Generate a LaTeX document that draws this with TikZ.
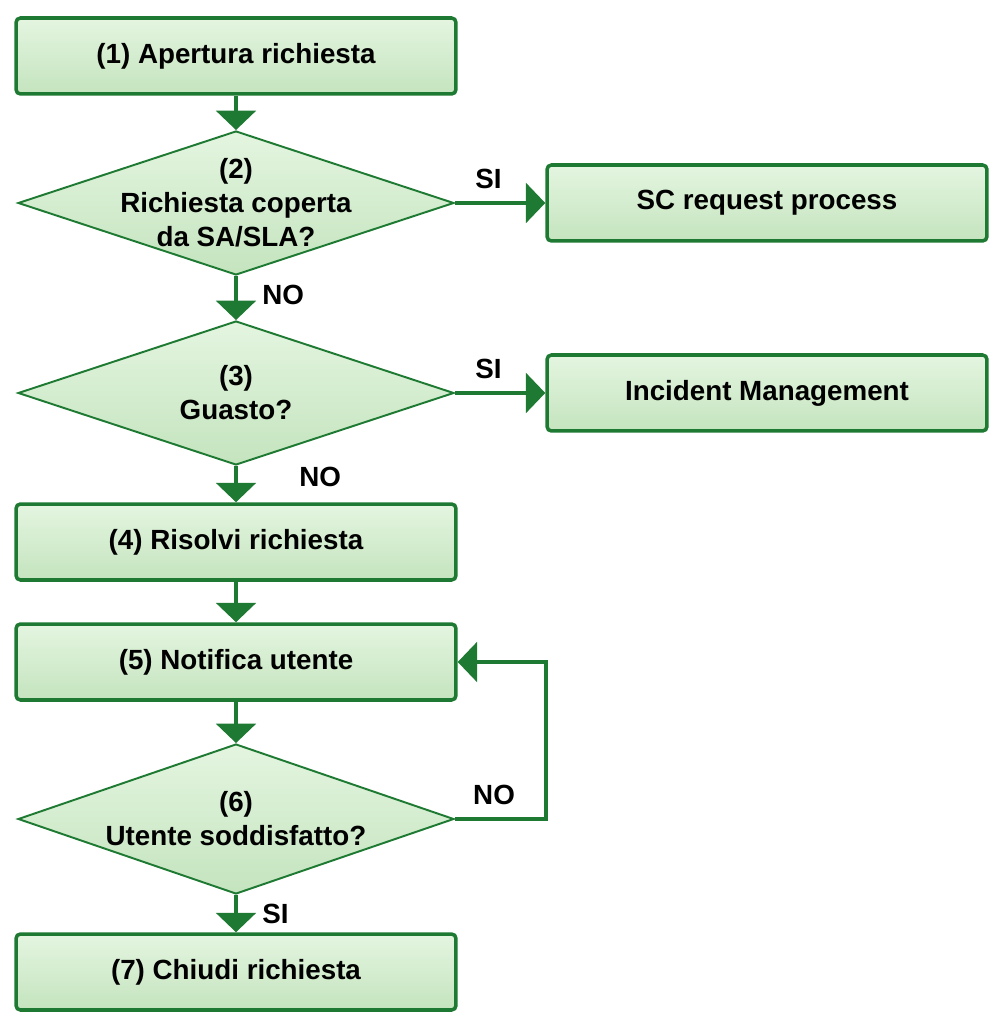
\documentclass[tikz,border=0pt]{standalone}
\usepackage{fontspec}
\setmainfont{Liberation Sans}
\usetikzlibrary{arrows.meta, positioning, shapes.geometric}
\definecolor{flowgreen}{RGB}{30,122,50}
\definecolor{boxtop}{RGB}{228,245,224}
\definecolor{boxbot}{RGB}{196,228,190}

\begin{document}
\begin{tikzpicture}[
    x=0.02cm, y=-0.02cm,
    font=\fontsize{15.8}{19.3}\selectfont\bfseries,
    procbox/.style  = {rectangle, draw=flowgreen, line width=2pt, rounded corners=2.5pt,
                       top color=boxtop, bottom color=boxbot,
                       minimum width=8.8cm, minimum height=1.52cm, align=center},
    decision/.style = {diamond, draw=flowgreen, line width=1.1pt,
                       top color=boxtop, bottom color=boxbot,
                       minimum width=8.72cm, minimum height=2.88cm, inner sep=0pt},
    dtext/.style    = {align=center, inner sep=0pt},
    arr/.style      = {-{Triangle[length=11pt, width=22.5pt]}, flowgreen, line width=2pt},
    lbl/.style      = {inner sep=2pt, text=black},
]
\useasboundingbox (0,0) rectangle (1000,1026);

% ---------------- main column ----------------
\node[procbox] (apertura) at (236,56) {(1) Apertura richiesta};
\node[decision] (coperta) at (236,203) {};
\node[dtext] at (coperta) {(2)\\Richiesta coperta\\da SA/SLA?};
\node[decision] (guasto) at (236,393) {};
\node[dtext] at (guasto) {(3)\\Guasto?};
\node[procbox] (risolvi) at (236,542) {(4) Risolvi richiesta};
\node[procbox] (notifica) at (236,662) {(5) Notifica utente};
\node[decision, minimum height=3.0cm] (soddisfatto) at (236,819) {};
\node[dtext] at (soddisfatto) {(6)\\Utente soddisfatto?};
\node[procbox] (chiudi) at (236,972) {(7) Chiudi richiesta};

% ---------------- side boxes ----------------
\node[procbox] (screq) at (767,203) {SC request process};
\node[procbox] (incident) at (767,393) {Incident Management};

% ---------------- connectors ----------------
\draw[arr] (apertura) -- (coperta);
\draw[arr] (coperta) -- node[lbl, pos=0.42, right=12pt] {NO} (guasto);
\draw[arr] (guasto) -- node[lbl, pos=0.3, right=33pt] {NO} (risolvi);
\draw[arr] (risolvi) -- (notifica);
\draw[arr] (notifica) -- (soddisfatto);
\draw[arr] (soddisfatto) -- node[lbl, pos=0.5, right=12pt] {SI} (chiudi);
\draw[arr] (coperta.east) -- node[lbl, pos=0.37, above=5pt] {SI} (screq.west);
\draw[arr] (guasto.east) -- node[lbl, pos=0.37, above=5pt] {SI} (incident.west);
\draw[arr] (soddisfatto.east) -- node[lbl, pos=0.43, above=5pt] {NO} ++(91,0) |- (notifica.east);

\end{tikzpicture}
\end{document}
